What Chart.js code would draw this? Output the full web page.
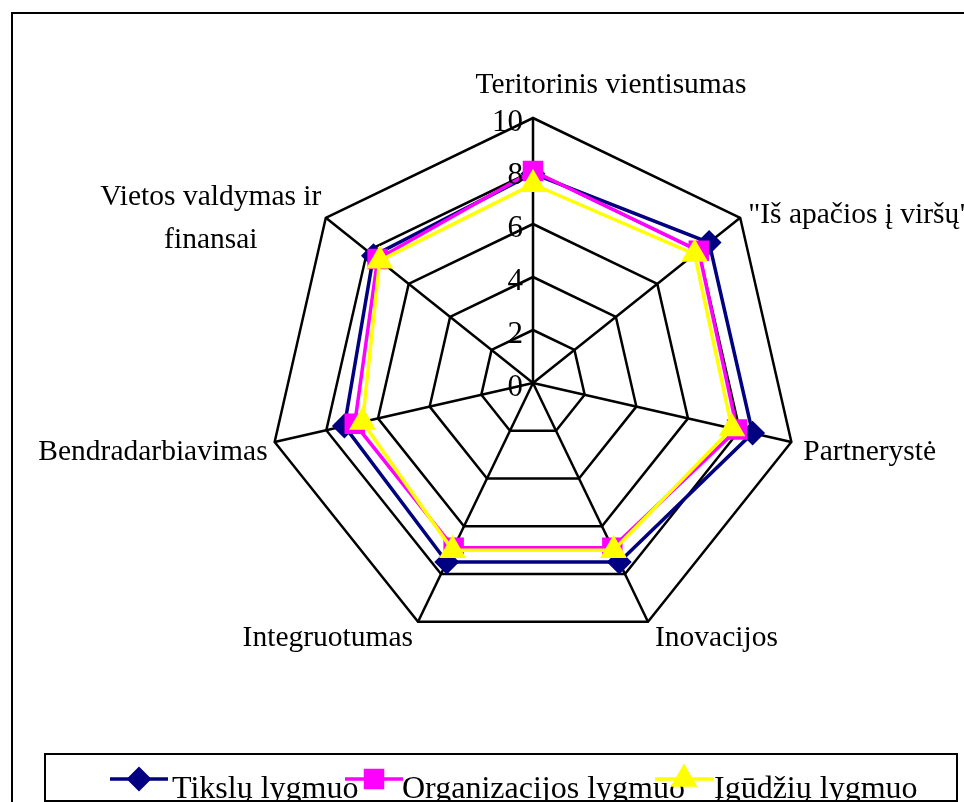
<!DOCTYPE html>
<html>
<head>
<meta charset="utf-8">
<script src="https://cdn.jsdelivr.net/npm/chart.js@4.4.1/dist/chart.umd.min.js"></script>
<style>
  html, body { margin: 0; padding: 0; background: #fff; }
  #wrap { position: relative; width: 964px; height: 802px; overflow: hidden; }
  #frame { position: absolute; left: 11px; top: 12px; width: 1000px; height: 900px; border: 2px solid #000; box-sizing: border-box; }
  #chartBox { position: absolute; left: 0; top: 0; width: 964px; height: 802px; }
</style>
</head>
<body>
<div id="wrap">
  <div id="frame"></div>
  <div id="chartBox"><canvas id="radar"></canvas></div>
</div>
<script>
// axis labels (categories)
var categories = ['Teritorinis vientisumas', '"Iš apačios į viršų"', 'Partnerystė', 'Inovacijos',
                  'Integruotumas', 'Bendradarbiavimas', ['Vietos valdymas ir', 'finansai']];

// series values
var tiksluLygmuo = [7.9, 8.5, 8.5, 7.5, 7.5, 7.3, 7.7];
var organizacijosLygmuo = [8.0, 8.0, 7.9, 6.9, 6.9, 6.9, 7.5];
var igudziuLygmuo = [7.5, 7.8, 7.7, 7.0, 7.0, 6.6, 7.4];

var tickValues = [0, 2, 4, 6, 8, 10];

var FONT = '"Liberation Serif", "Times New Roman", serif';

// where each axis label sits relative to the outer vertex (Excel places them a bit oddly)
var labelOffsets = [
    { dx: 78, dy: -33, align: 'center' },
    { dx: 8, dy: -3, align: 'left' },
    { dx: 12, dy: 10, align: 'left' },
    { dx: 7, dy: 16, align: 'left' },
    { dx: -5, dy: 16, align: 'right' },
    { dx: -7, dy: 10, align: 'right' },
    { dx: -115, dy: -21, align: 'center', lineGap: 43 }
];

// draws axis labels, tick numbers and the legend box
var decorPlugin = {
    id: 'decor',
    afterDraw: function (chart) {
        var ctx = chart.ctx;
        var scale = chart.scales.r;
        ctx.save();
        ctx.fillStyle = '#000';

        // tick labels, just left of the top axis
        ctx.font = '31px ' + FONT;
        ctx.textAlign = 'right';
        ctx.textBaseline = 'middle';
        tickValues.forEach(function (v) {
            var p = scale.getPointPositionForValue(0, v);
            ctx.fillText(String(v), p.x - 10, p.y + 5);
        });

        // axis labels
        ctx.font = '29.5px ' + FONT;
        categories.forEach(function (label, i) {
            var p = scale.getPointPosition(i, scale.drawingArea);
            var o = labelOffsets[i];
            ctx.textAlign = o.align;
            var lines = Array.isArray(label) ? label : [label];
            lines.forEach(function (line, j) {
                ctx.fillText(line, p.x + o.dx, p.y + o.dy + j * (o.lineGap || 0));
            });
        });

        // legend
        var box = { left: 45, top: 754, right: 957, bottom: 801 };
        ctx.lineWidth = 2;
        ctx.strokeStyle = '#000';
        ctx.strokeRect(box.left, box.top, box.right - box.left, box.bottom - box.top);

        var items = [
            { x: 110, textX: 172 },
            { x: 345, textX: 402 },
            { x: 655, textX: 714 }
        ];
        var legendY = 779;
        ctx.font = '32px ' + FONT;
        ctx.textAlign = 'left';
        ctx.textBaseline = 'alphabetic';
        chart.data.datasets.forEach(function (ds, i) {
            var it = items[i];
            ctx.strokeStyle = ds.borderColor;
            ctx.lineWidth = ds.borderWidth;
            ctx.beginPath();
            ctx.moveTo(it.x, legendY);
            ctx.lineTo(it.x + 58, legendY);
            ctx.stroke();
            Chart.helpers.drawPoint(ctx, {
                pointStyle: ds.pointStyle,
                radius: ds.pointRadius,
                rotation: 0,
                borderWidth: 1
            }, it.x + 29, legendY);
            ctx.fillStyle = ds.pointBackgroundColor;
            ctx.strokeStyle = ds.pointBorderColor;
            ctx.fill();
            ctx.fillStyle = '#000';
            ctx.fillText(ds.label, it.textX, 798);
        });
        ctx.restore();
    }
};

var ctx = document.getElementById('radar').getContext('2d');

window.myChart = new Chart(ctx, {
    type: 'radar',
    data: {
        labels: categories,
        datasets: [{
            label: 'Tikslų lygmuo',
            data: tiksluLygmuo,
            borderColor: '#000080',
            borderWidth: 3.5,
            pointStyle: 'rectRot',
            pointRadius: 10,
            pointBackgroundColor: '#000080',
            pointBorderColor: '#000080',
            fill: false,
            order: 3
        }, {
            label: 'Organizacijos lygmuo',
            data: organizacijosLygmuo,
            borderColor: '#FF00FF',
            borderWidth: 3.5,
            pointStyle: 'rect',
            pointRadius: 12,
            pointBackgroundColor: '#FF00FF',
            pointBorderColor: '#FF00FF',
            fill: false,
            order: 2
        }, {
            label: 'Įgūdžių lygmuo',
            data: igudziuLygmuo,
            borderColor: '#FFFF00',
            borderWidth: 3.5,
            pointStyle: 'triangle',
            pointRadius: 12,
            pointBackgroundColor: '#FFFF00',
            pointBorderColor: '#FFFF00',
            fill: false,
            order: 1
        }]
    },
    options: {
        responsive: true,
        maintainAspectRatio: false,
        animation: false,
        layout: {
            padding: { left: 268, right: 166, top: 118, bottom: 154 }
        },
        plugins: {
            legend: { display: false },
            tooltip: { enabled: false }
        },
        elements: {
            line: { tension: 0 }
        },
        scales: {
            r: {
                min: 0,
                max: 10,
                beginAtZero: true,
                ticks: { stepSize: 2, display: false, showLabelBackdrop: false },
                grid: { color: '#000', lineWidth: 2.5 },
                angleLines: { color: '#000', lineWidth: 2.5 },
                pointLabels: { display: false }
            }
        }
    },
    plugins: [decorPlugin]
});
</script>
</body>
</html>
